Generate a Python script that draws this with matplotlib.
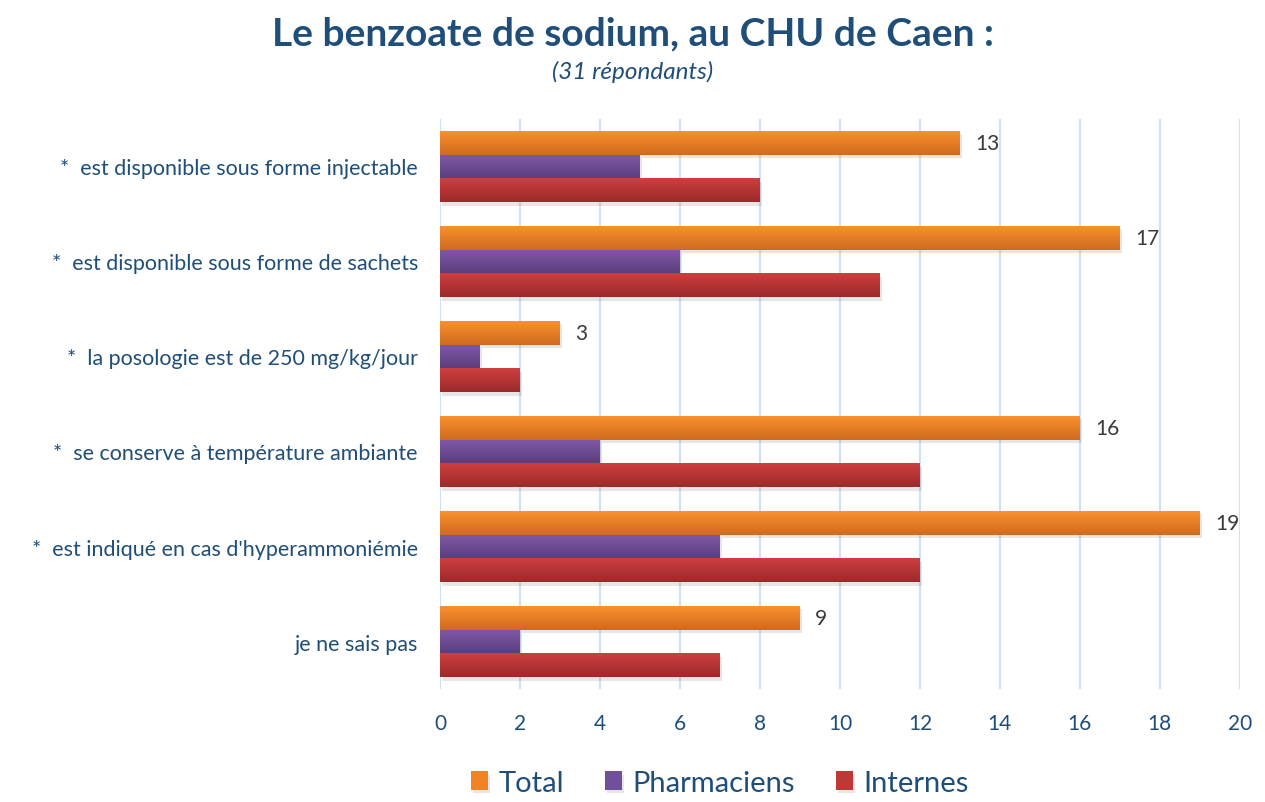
import matplotlib
matplotlib.use("Agg")
import matplotlib.pyplot as plt
import matplotlib.patheffects as pe
from matplotlib.colors import LinearSegmentedColormap
import numpy as np

plt.rcParams['font.family'] = ['Lato', 'DejaVu Sans']

categories = [
    "*  est disponible sous forme injectable",
    "*  est disponible sous forme de sachets",
    "*  la posologie est de 250 mg/kg/jour",
    "*  se conserve à température ambiante",
    "*  est indiqué en cas d'hyperammoniémie",
    "je ne sais pas",
]
total = [13, 17, 3, 16, 19, 9]
pharmaciens = [5, 6, 1, 4, 7, 2]
internes = [8, 11, 2, 12, 12, 7]
series_names = ["Total", "Pharmaciens", "Internes"]
xticks = [0, 2, 4, 6, 8, 10, 12, 14, 16, 18, 20]

top_colors = ["#F9912E", "#8059A8", "#CD3F3E"]
bot_colors = ["#D06A1F", "#5B3E7C", "#9C2A2A"]
mid_colors = ["#F08424", "#70509A", "#BE3836"]
text_blue = "#1F4E79"

fig = plt.figure(figsize=(12.65, 8.03), dpi=100)
ax = fig.add_axes([0.348, 0.1407, 0.632, 0.7099])

n = len(categories)
y = np.arange(n)
h = 0.25
series = [total, pharmaciens, internes]
offsets = [-h, 0, h]

for s, (vals, off) in enumerate(zip(series, offsets)):
    bars = ax.barh(y + off, vals, height=h, color=mid_colors[s], label=series_names[s],
                   zorder=3 + s * 0.1,
                   path_effects=[pe.SimplePatchShadow(offset=(1.5, -2.5), shadow_rgbFace="#777777", alpha=0.18), pe.Normal()])
    cmap = LinearSegmentedColormap.from_list("g%d" % s, [top_colors[s], bot_colors[s]])
    grad = np.linspace(0, 1, 64).reshape(-1, 1)
    for b in bars:
        x0, y0 = b.get_x(), b.get_y()
        w, hh = b.get_width(), b.get_height()
        im = ax.imshow(grad, cmap=cmap, aspect='auto', extent=[x0, x0 + w, y0 + hh, y0],
                       origin='upper', zorder=3.05 + s * 0.1, interpolation='bilinear')
        im.set_clip_path(b)

for i, v in enumerate(total):
    ax.text(v + 0.38, y[i] - h, str(v), va='center', ha='left', fontsize=15,
            color="#3A3A3A", zorder=5)

ax.set_xlim(0, 20)
ax.set_ylim(n - 0.5 + 0.0, -0.5)
ax.set_xticks(xticks)
ax.set_xticklabels([str(t) for t in xticks], fontsize=15, color=text_blue)
ax.set_yticks(y)
ax.set_yticklabels(categories, fontsize=15.5, color=text_blue)
ax.tick_params(axis='x', length=0, pad=17)
ax.tick_params(axis='y', length=0, pad=16)
ax.grid(axis='x', color="#D3E0EE", linewidth=1.5, zorder=0)
ax.set_axisbelow(True)
for sp in ax.spines.values():
    sp.set_visible(False)

fig.text(0.5, 0.958, "Le benzoate de sodium, au CHU de Caen :", ha='center', va='center',
         fontsize=28, fontweight='bold', color=text_blue)
fig.text(0.5, 0.910, "(31 répondants)", ha='center', va='center', fontsize=17.5,
         style='italic', color=text_blue)

handles, labels = ax.get_legend_handles_labels()
leg = fig.legend(handles, labels, loc='center', bbox_to_anchor=(0.569, 0.024), ncol=3,
                 frameon=False, fontsize=21, handlelength=0.6, handleheight=0.6,
                 columnspacing=1.4, handletextpad=0.35, borderaxespad=0, borderpad=0.1,
                 labelcolor=text_blue)
for t in leg.get_texts():
    t.set_color(text_blue)

fig.savefig("out.png", dpi=100)
